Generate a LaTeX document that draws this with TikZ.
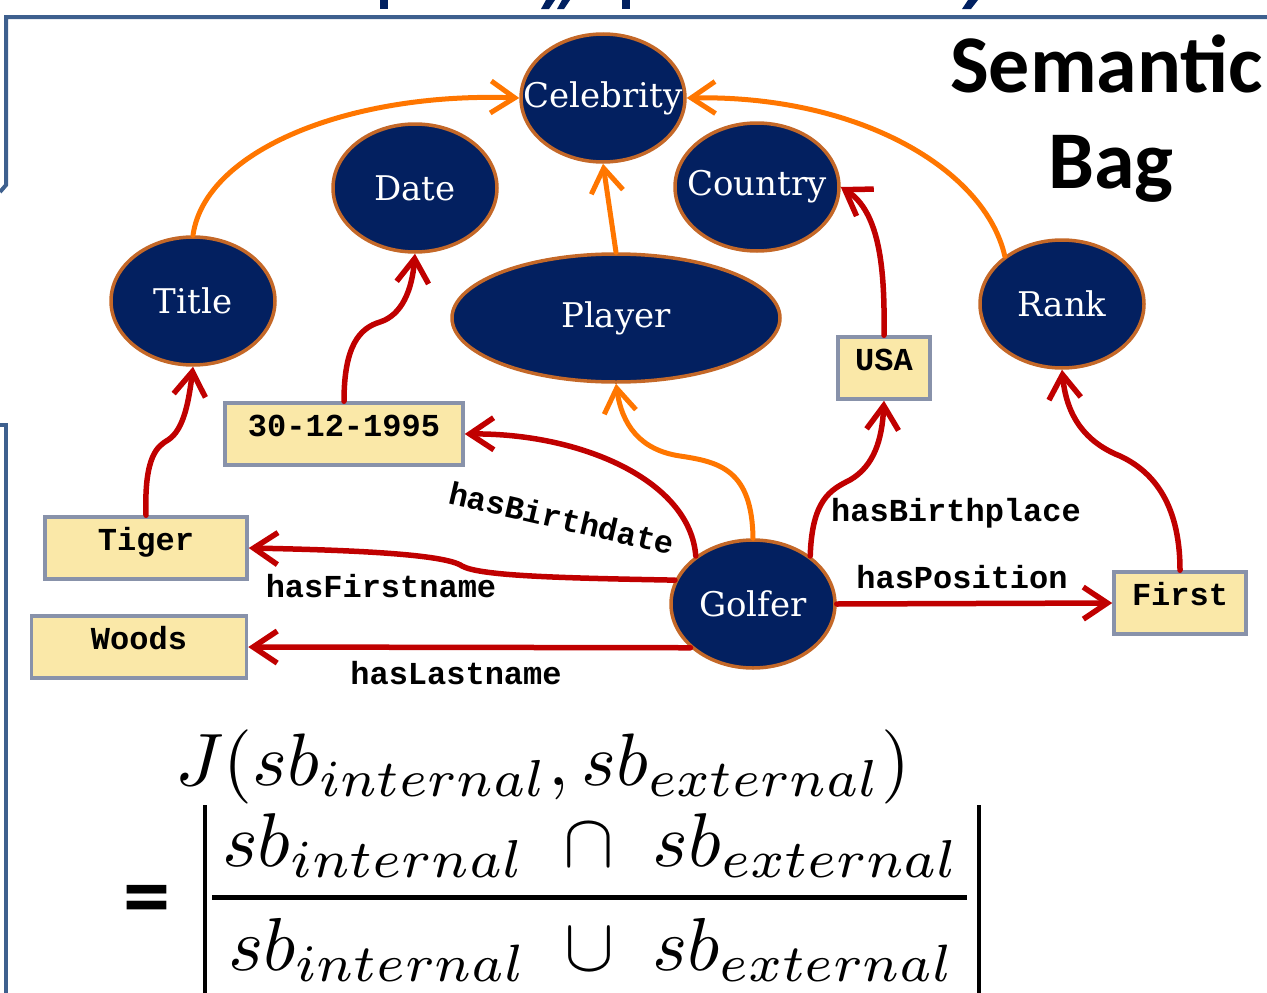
\documentclass[tikz,border=0pt]{standalone}
\usepackage{fontspec}
\usepackage{graphicx}
\usetikzlibrary{shapes.geometric,arrows.meta}

\newfontfamily\cmono{Liberation Mono}
\newfontfamily\cserif{DejaVu Serif}
\newfontfamily\csans{Carlito}

\definecolor{navy}{RGB}{3,32,96}
\definecolor{rim}{RGB}{196,104,40}
\definecolor{boxfill}{RGB}{250,232,168}
\definecolor{boxline}{RGB}{136,146,170}
\definecolor{redline}{RGB}{192,0,0}
\definecolor{orangeline}{RGB}{255,118,0}
\definecolor{frameblue}{RGB}{62,96,142}
\definecolor{titleblue}{RGB}{0,32,96}

% concept labels take no width, so the ellipse keeps its given size
\newcommand{\clabel}[1]{\makebox[0pt]{#1}}

\tikzset{
  concept/.style={ellipse, draw=rim, line width=3.5pt, fill=navy, text=white,
    inner sep=0pt, minimum width=164pt, minimum height=128pt,
    font=\cserif\fontsize{34}{40}\selectfont},
  literal/.style={rectangle, draw=boxline, line width=3.5pt, fill=boxfill,
    inner sep=0pt, text height=33pt, text depth=29pt,
    font=\cmono\bfseries\fontsize{32}{36}\selectfont},
  prop/.style={inner sep=0pt, font=\cmono\bfseries\fontsize{32}{36}\selectfont},
  rel/.style={draw=redline, line width=5.5pt, line cap=round,
    -{Straight Barb[length=24pt,width=32pt]}},
  sub/.style={draw=orangeline, line width=5pt, line cap=round,
    -{Straight Barb[length=24pt,width=32pt]}},
  frame/.style={draw=frameblue, line width=4pt, line join=miter},
  formula/.style={inner sep=0pt, anchor=base west},
}

\begin{document}
\begin{tikzpicture}[x=1pt,y=-1pt]
\useasboundingbox (0,0) rectangle (1267,993);
\clip (0,0) rectangle (1267,993);

% slide frame
\draw[frame] (0,192) -- (6,185) -- (6,17) -- (1270,17);
\draw[frame] (0,425) -- (6,425) -- (6,1000);

% descenders of the heading above the frame
\fill[titleblue] (380,0) rectangle (388,9);
\fill[titleblue] (622,0) rectangle (630,9);
\fill[titleblue] (546,0) -- (555,0) -- (549,9) -- (541,9) -- cycle;
\fill[titleblue] (562,0) -- (570,0) -- (564,9) -- (557,9) -- cycle;
\fill[titleblue] (968,0) -- (978,0) -- (971,9) -- (962,9) -- cycle;

% heading
\node[inner sep=0pt, anchor=base west, font=\csans\bfseries\fontsize{82}{98}\selectfont] (sem) at (950,92) {Semantic};
\node[inner sep=0pt, anchor=base west, font=\csans\bfseries\fontsize{82}{98}\selectfont] (bag) at (1048,188) {Bag};

% concepts
\node[concept] (Celebrity) at (603,98) {\clabel{Celebrity}};
\node[concept] (Date) at (415,188) {\clabel{Date}};
\node[concept] (Country) at (757,187) {\clabel{Country}};
\node[concept] (Title) at (193,301) {\clabel{Title}};
\node[concept, minimum width=328pt] (Player) at (616,318) {\clabel{Player}};
\node[concept] (Rank) at (1062,304) {\clabel{Rank}};
\node[concept] (Golfer) at (753,604) {\clabel{Golfer}};

% literals
\node[literal, minimum width=238pt] (bday) at (344,434) {30-12-1995};
\node[literal, minimum width=202pt] (Tiger) at (146,548) {Tiger};
\node[literal, minimum width=215pt] (Woods) at (139,647) {Woods};
\node[literal, minimum width=92pt] (USA) at (884,368) {USA};
\node[literal, minimum width=132pt] (First) at (1180,603) {First};

% subclass links
\draw[sub] (Title.north) .. controls (205,150) and (350,92) .. (Celebrity.west);
\draw[sub] (Rank.140) .. controls (985,170) and (860,95) .. (Celebrity.east);
\draw[sub] (Player.north) -- (Celebrity.south);
\draw[sub] (Golfer.north) .. controls (752,470) and (720,462) .. (680,456)
                          .. controls (640,450) and (622,425) .. (Player.south);

% property links
\draw[rel] (Tiger.north) .. controls (144,455) and (158,446) .. (168,440)
                         .. controls (184,430) and (189,400) .. (Title.south);
\draw[rel] (bday.north) .. controls (344,345) and (360,328) .. (380,322)
                        .. controls (402,315) and (412,290) .. (Date.south);
\draw[rel] (Golfer.140) .. controls (690,480) and (580,433) .. (bday.east);
\draw[rel] (Golfer.163) .. controls (560,578) and (480,576) .. (462,566)
                        .. controls (445,554) and (350,550) .. (Tiger.east);
\draw[rel] (Golfer.215) -- (Woods.east);
\draw[rel] (Golfer.40) .. controls (812,500) and (830,490) .. (850,480)
                       .. controls (874,466) and (882,440) .. (USA.south);
\draw[rel] (USA.north) .. controls (885,270) and (880,212) .. (Country.east);
\draw[rel] (Golfer.east) -- (First.west);
\draw[rel] (First.north) .. controls (1180,500) and (1150,470) .. (1120,456)
                         .. controls (1080,440) and (1066,410) .. (Rank.south);

% property names
\node[prop, rotate=-13] (lbdate) at (562,518) {hasBirthdate};
\node[prop, anchor=base] (lfirst) at (381,597) {hasFirstname};
\node[prop, anchor=base] (llast) at (456,684) {hasLastname};
\node[prop, anchor=base] (lbplace) at (956,521) {hasBirthplace};
\node[prop, anchor=base] (lpos) at (962,588) {hasPosition};

% Jaccard index of the two semantic bags
\node[formula] (jline) at (175,785) {\resizebox{735pt}{!}{$J(sb_{internal},sb_{external})$}};
\node[inner sep=0pt] (eq) at (147,906) {\resizebox{47pt}{!}{\csans\bfseries =}};
\node[formula] (numer) at (222,866) {\resizebox{738pt}{!}{$sb_{internal}\;\cap\;sb_{external}$}};
\node[formula] (denom) at (228,970) {\resizebox{727pt}{!}{$sb_{internal}\;\cup\;sb_{external}$}};
\draw[line width=5pt] (212,897) -- (967,897);
\draw[line width=4pt] (205,805) -- (205,1000);
\draw[line width=4pt] (979,805) -- (979,1000);
\end{tikzpicture}
\end{document}
